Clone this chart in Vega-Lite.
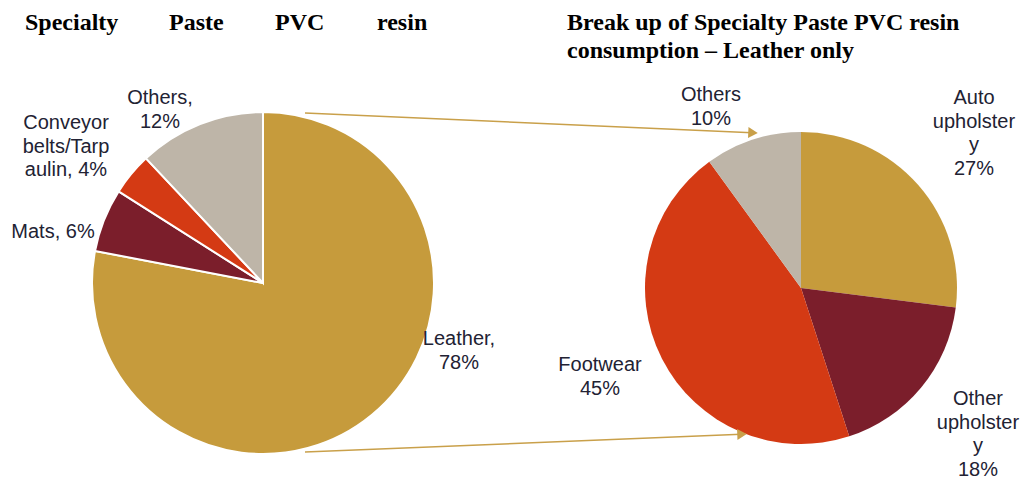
{
  "$schema": "https://vega.github.io/schema/vega-lite/v6.json",
  "width": 1024,
  "height": 479,
  "autosize": "none",
  "padding": 0,
  "background": "white",
  "config": {"view": {"stroke": null}},
  "datasets": {
    "overall": [
      {"segment": "Leather", "share": 78, "ord": 1},
      {"segment": "Mats", "share": 6, "ord": 2},
      {"segment": "Conveyor belts/Tarpaulin", "share": 4, "ord": 3},
      {"segment": "Others", "share": 12, "ord": 4}
    ],
    "leather": [
      {"segment": "Auto upholstery", "share": 27, "ord": 1},
      {"segment": "Other upholstery", "share": 18, "ord": 2},
      {"segment": "Footwear", "share": 45, "ord": 3},
      {"segment": "Others", "share": 10, "ord": 4}
    ],
    "arrows": [
      {"x": 305, "y": 113, "x2": 752, "y2": 132.7, "hx": 753, "hy": 132.7, "ang": 2.5},
      {"x": 305, "y": 452, "x2": 741, "y2": 434.3, "hx": 742, "hy": 434.3, "ang": 357.7}
    ],
    "labels": [
      {"x": 160, "y": 98, "text": "Others,\n12%"},
      {"x": 66, "y": 123, "text": "Conveyor\nbelts/Tarp\naulin, 4%"},
      {"x": 53, "y": 232, "text": "Mats, 6%"},
      {"x": 459, "y": 339, "text": "Leather,\n78%"},
      {"x": 711, "y": 95, "text": "Others\n10%"},
      {"x": 974, "y": 98, "text": "Auto\nupholster\ny\n27%"},
      {"x": 600, "y": 365, "text": "Footwear\n45%"},
      {"x": 978, "y": 399, "text": "Other\nupholster\ny\n18%"}
    ],
    "titles": [
      {"x": 25, "y": 30, "text": "Specialty"},
      {"x": 169, "y": 30, "text": "Paste"},
      {"x": 275, "y": 30, "text": "PVC"},
      {"x": 377, "y": 30, "text": "resin"},
      {"x": 567, "y": 30, "text": "Break up of Specialty Paste PVC resin"},
      {"x": 567, "y": 58, "text": "consumption – Leather only"}
    ]
  },
  "layer": [
    {
      "data": {"name": "overall"},
      "mark": {"type": "arc", "outerRadius": 171, "stroke": "white", "strokeWidth": 2},
      "encoding": {
        "x": {"datum": 263, "type": "quantitative", "scale": {"domain": [0, 1024], "nice": false, "zero": false}, "axis": null},
        "y": {"datum": 283, "type": "quantitative", "scale": {"domain": [0, 479], "reverse": true, "nice": false, "zero": false}, "axis": null},
        "theta": {"field": "share", "type": "quantitative", "stack": true},
        "order": {"field": "ord", "type": "quantitative"},
        "color": {
          "field": "segment", "type": "nominal", "legend": null,
          "scale": {
            "domain": ["Leather", "Mats", "Conveyor belts/Tarpaulin", "Others", "Auto upholstery", "Other upholstery", "Footwear"],
            "range": ["#C69B3C", "#7B1E2B", "#D43A14", "#BEB5A8", "#C69B3C", "#7B1E2B", "#D43A14"]
          }
        }
      }
    },
    {
      "data": {"name": "leather"},
      "mark": {"type": "arc", "outerRadius": 156},
      "encoding": {
        "x": {"datum": 801, "type": "quantitative", "scale": {"domain": [0, 1024], "nice": false, "zero": false}, "axis": null},
        "y": {"datum": 288, "type": "quantitative", "scale": {"domain": [0, 479], "reverse": true, "nice": false, "zero": false}, "axis": null},
        "theta": {"field": "share", "type": "quantitative", "stack": true},
        "order": {"field": "ord", "type": "quantitative"},
        "color": {"field": "segment", "type": "nominal", "legend": null}
      }
    },
    {
      "data": {"name": "arrows"},
      "mark": {"type": "rule", "color": "#C9A04A", "strokeWidth": 1.5},
      "encoding": {
        "x": {"field": "x", "type": "quantitative", "scale": {"domain": [0, 1024], "nice": false, "zero": false}, "axis": null},
        "y": {"field": "y", "type": "quantitative", "scale": {"domain": [0, 479], "reverse": true, "nice": false, "zero": false}, "axis": null},
        "x2": {"field": "x2"},
        "y2": {"field": "y2"}
      }
    },
    {
      "data": {"name": "arrows"},
      "mark": {"type": "point", "shape": "triangle-right", "filled": true, "color": "#C9A04A", "size": 120, "opacity": 1},
      "encoding": {
        "x": {"field": "hx", "type": "quantitative", "scale": {"domain": [0, 1024], "nice": false, "zero": false}, "axis": null},
        "y": {"field": "hy", "type": "quantitative", "scale": {"domain": [0, 479], "reverse": true, "nice": false, "zero": false}, "axis": null},
        "angle": {"field": "ang", "type": "quantitative", "scale": null}
      }
    },
    {
      "data": {"name": "labels"},
      "mark": {"type": "text", "font": "Liberation Sans", "fontSize": 20, "lineHeight": 23.5, "align": "center", "baseline": "middle", "lineBreak": "\n", "color": "#222233"},
      "encoding": {
        "x": {"field": "x", "type": "quantitative", "scale": {"domain": [0, 1024], "nice": false, "zero": false}, "axis": null},
        "y": {"field": "y", "type": "quantitative", "scale": {"domain": [0, 479], "reverse": true, "nice": false, "zero": false}, "axis": null},
        "text": {"field": "text"}
      }
    },
    {
      "data": {"name": "titles"},
      "mark": {"type": "text", "font": "Liberation Serif", "fontSize": 24, "fontWeight": "bold", "align": "left", "baseline": "alphabetic", "color": "black"},
      "encoding": {
        "x": {"field": "x", "type": "quantitative", "scale": {"domain": [0, 1024], "nice": false, "zero": false}, "axis": null},
        "y": {"field": "y", "type": "quantitative", "scale": {"domain": [0, 479], "reverse": true, "nice": false, "zero": false}, "axis": null},
        "text": {"field": "text"}
      }
    }
  ]
}
